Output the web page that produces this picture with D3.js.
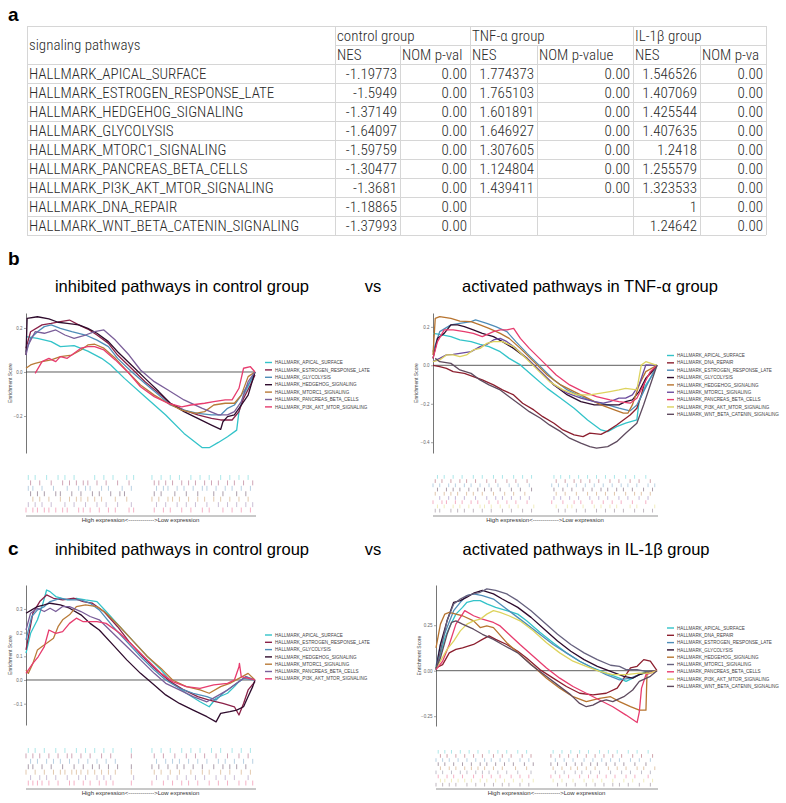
<!DOCTYPE html>
<html>
<head>
<meta charset="utf-8">
<script src="https://cdn.jsdelivr.net/npm/d3@7"></script>
<style>
  body { margin: 0; background: #fff; }
</style>
</head>
<body>
<div id="container"></div>
<script>
// ---- table (panel a) ----
const pathways = ["HALLMARK_APICAL_SURFACE", "HALLMARK_ESTROGEN_RESPONSE_LATE", "HALLMARK_HEDGEHOG_SIGNALING",
    "HALLMARK_GLYCOLYSIS", "HALLMARK_MTORC1_SIGNALING", "HALLMARK_PANCREAS_BETA_CELLS",
    "HALLMARK_PI3K_AKT_MTOR_SIGNALING", "HALLMARK_DNA_REPAIR", "HALLMARK_WNT_BETA_CATENIN_SIGNALING"];
const groups = ["control group", "TNF-α group", "IL-1β group"];
// header cells as they show in the (clipped) sheet
const subHeads = ["NES", "NOM p-val", "NES", "NOM p-value", "NES", "NOM p-va"];
const ctrlNES = [-1.19773, -1.5949, -1.37149, -1.64097, -1.59759, -1.30477, -1.3681, -1.18865, -1.37993];
const ctrlP = [0, 0, 0, 0, 0, 0, 0, 0, 0];
const tnfNES = [1.774373, 1.765103, 1.601891, 1.646927, 1.307605, 1.124804, 1.439411, null, null];
const tnfP = [0, 0, 0, 0, 0, 0, 0, null, null];
const ilNES = [1.546526, 1.407069, 1.425544, 1.407635, 1.2418, 1.255579, 1.323533, 1, 1.24642];
const ilP = [0, 0, 0, 0, 0, 0, 0, 0, 0];

// ---- gene sets ----
const leftSets = ["HALLMARK_APICAL_SURFACE", "HALLMARK_ESTROGEN_RESPONSE_LATE", "HALLMARK_GLYCOLYSIS",
    "HALLMARK_HEDGEHOG_SIGNALING", "HALLMARK_MTORC1_SIGNALING", "HALLMARK_PANCREAS_BETA_CELLS",
    "HALLMARK_PI3K_AKT_MTOR_SIGNALING"];
const rightSets = ["HALLMARK_APICAL_SURFACE", "HALLMARK_DNA_REPAIR", "HALLMARK_ESTROGEN_RESPONSE_LATE",
    "HALLMARK_GLYCOLYSIS", "HALLMARK_HEDGEHOG_SIGNALING", "HALLMARK_MTORC1_SIGNALING",
    "HALLMARK_PANCREAS_BETA_CELLS", "HALLMARK_PI3K_AKT_MTOR_SIGNALING", "HALLMARK_WNT_BETA_CATENIN_SIGNALING"];

// running enrichment score: [rank %, ES]
const bLeftES = [
    [[0,0.161],[5,0.153],[11,0.138],[15,0.115],[21,0.12],[27,0.095],[33,0.062],[37,0.032],[43,-0.029],[52,-0.112],[61,-0.195],[69,-0.279],[77,-0.344],[80,-0.344],[84,-0.32],[88,-0.294],[92,-0.264],[93,-0.18],[95,-0.105],[98,-0.044],[100,0]],
    [[0,0.108],[2,0.183],[7,0.214],[11,0.221],[15,0.229],[19,0.236],[23,0.214],[27,0.195],[31,0.168],[36,0.13],[40,0.077],[46,0.017],[52,-0.044],[58,-0.097],[63,-0.142],[69,-0.173],[75,-0.195],[81,-0.211],[85,-0.218],[90,-0.218],[93,-0.18],[95,-0.12],[98,-0.059],[100,-0.014]],
    [[0,0.092],[2,0.153],[5,0.183],[8,0.206],[11,0.214],[15,0.198],[20,0.183],[26,0.168],[31,0.145],[36,0.115],[40,0.062],[46,0.002],[52,-0.052],[58,-0.105],[63,-0.15],[69,-0.173],[75,-0.188],[81,-0.195],[85,-0.195],[88,-0.165],[91,-0.15],[94,-0.105],[97,-0.059],[100,0]],
    [[0,0.077],[0.5,0.244],[5,0.251],[10,0.241],[14,0.226],[18,0.221],[23,0.214],[27,0.198],[31,0.176],[36,0.138],[40,0.092],[46,0.032],[52,-0.029],[58,-0.089],[63,-0.142],[69,-0.18],[75,-0.211],[81,-0.241],[85,-0.261],[86,-0.226],[88,-0.203],[91,-0.195],[94,-0.15],[97,-0.105],[100,0]],
    [[0,0.017],[2,0.032],[4,0.039],[7,0.047],[11,0.055],[15,0.07],[20,0.077],[24,0.1],[27,0.123],[30,0.126],[34,0.108],[39,0.062],[45,-0.006],[50,-0.059],[56,-0.105],[62,-0.142],[68,-0.173],[74,-0.188],[78,-0.18],[82,-0.15],[87,-0.142],[91,-0.142],[94,-0.105],[97,-0.021],[100,0]],
    [[0,0.077],[1,0.123],[4,0.183],[8,0.176],[13,0.191],[17,0.168],[21,0.153],[26,0.168],[30,0.183],[34,0.191],[39,0.145],[45,0.077],[50,0.009],[56,-0.044],[62,-0.082],[69,-0.127],[77,-0.165],[84,-0.195],[88,-0.195],[91,-0.18],[94,-0.135],[97,-0.044],[100,0]],
    [[4,-0.006],[7,0.047],[10,0.062],[13,0.047],[15,0.07],[18,0.062],[21,0.085],[24,0.108],[27,0.115],[30,0.115],[34,0.1],[39,0.055],[45,-0.006],[50,-0.067],[56,-0.112],[62,-0.142],[68,-0.158],[72,-0.15],[78,-0.142],[82,-0.135],[87,-0.127],[90,-0.127],[93,-0.074],[95,0.017],[98,0.024],[100,0]]
];

const bRightES = [
    [[0,0.166],[3,0.161],[8,0.149],[12,0.132],[17,0.123],[21,0.109],[25,0.097],[30,0.071],[34,0.036],[39,0.002],[45,-0.059],[51,-0.12],[57,-0.171],[63,-0.223],[69,-0.284],[75,-0.336],[78,-0.345],[82,-0.319],[86,-0.301],[91,-0.284],[92,-0.189],[95,-0.102],[98,-0.05],[100,0]],
    [[0,0],[3,-0.007],[6,-0.016],[9,-0.033],[14,-0.042],[18,-0.059],[22,-0.076],[27,-0.102],[31,-0.128],[36,-0.154],[40,-0.197],[45,-0.232],[49,-0.267],[54,-0.301],[58,-0.336],[63,-0.362],[67,-0.371],[70,-0.353],[75,-0.359],[78,-0.341],[82,-0.31],[85,-0.284],[88,-0.258],[91,-0.223],[93,-0.154],[95,-0.068],[98,-0.033],[100,0]],
    [[0,0.071],[3,0.175],[8,0.21],[12,0.218],[17,0.227],[19,0.236],[24,0.218],[28,0.201],[33,0.175],[37,0.123],[42,0.062],[48,-0.007],[54,-0.076],[60,-0.128],[66,-0.163],[72,-0.189],[78,-0.206],[83,-0.223],[88,-0.237],[91,-0.206],[94,-0.137],[97,-0.068],[100,0]],
    [[0,0.036],[2,0.14],[5,0.166],[8,0.21],[11,0.21],[14,0.201],[18,0.184],[22,0.166],[27,0.149],[31,0.123],[36,0.088],[42,0.036],[48,-0.033],[54,-0.102],[60,-0.154],[66,-0.189],[72,-0.206],[78,-0.206],[83,-0.206],[86,-0.189],[89,-0.18],[92,-0.137],[95,-0.068],[100,0]],
    [[0,0.054],[1,0.244],[3,0.253],[8,0.244],[12,0.23],[17,0.227],[21,0.21],[25,0.192],[30,0.166],[34,0.14],[39,0.088],[45,0.019],[51,-0.05],[57,-0.102],[63,-0.137],[69,-0.171],[75,-0.206],[81,-0.232],[85,-0.249],[87,-0.249],[89,-0.206],[92,-0.102],[95,-0.033],[100,0]],
    [[0,0.019],[3,0.036],[6,0.054],[9,0.057],[12,0.062],[17,0.071],[21,0.097],[24,0.109],[27,0.132],[30,0.14],[33,0.123],[37,0.088],[42,0.036],[48,-0.033],[54,-0.102],[60,-0.145],[66,-0.171],[72,-0.189],[76,-0.197],[79,-0.189],[83,-0.171],[86,-0.171],[89,-0.154],[92,-0.102],[95,0.002],[100,0]],
    [[0,0.036],[2,0.123],[5,0.184],[9,0.184],[14,0.175],[18,0.166],[22,0.149],[27,0.175],[30,0.184],[33,0.184],[36,0.192],[39,0.14],[43,0.088],[49,0.019],[55,-0.05],[61,-0.102],[67,-0.137],[73,-0.163],[79,-0.18],[83,-0.189],[88,-0.197],[91,-0.171],[94,-0.102],[97,-0.033],[100,0]],
    [[0,0.019],[3,0.028],[6,0.054],[9,0.054],[12,0.045],[15,0.054],[18,0.08],[21,0.088],[24,0.114],[27,0.123],[31,0.123],[36,0.097],[40,0.054],[46,-0.016],[52,-0.085],[58,-0.128],[64,-0.154],[70,-0.154],[75,-0.145],[79,-0.137],[83,-0.128],[86,-0.12],[91,-0.128],[93,0.002],[95,0.019],[100,0]],
    [[1,0.036],[3,0.019],[8,0.01],[12,-0.024],[17,-0.042],[21,-0.076],[25,-0.102],[30,-0.128],[34,-0.163],[39,-0.206],[43,-0.241],[48,-0.275],[52,-0.31],[57,-0.345],[61,-0.379],[66,-0.405],[70,-0.423],[73,-0.431],[78,-0.423],[82,-0.397],[86,-0.353],[91,-0.301],[94,-0.206],[97,-0.102],[100,0]]
];

const cLeftES = [
    [[0,0.113],[2,0.197],[5,0.254],[7,0.31],[9,0.38],[10.5,0.373],[13,0.352],[18,0.338],[22,0.345],[26,0.338],[31,0.331],[35,0.289],[41,0.225],[47,0.162],[53,0.099],[59,0.042],[64,-0.014],[70,-0.056],[76,-0.092],[80,-0.113],[83,-0.077],[88,-0.056],[91,-0.028],[93,-0.007],[96,0.014],[100,0]],
    [[0,0.127],[3,0.282],[6,0.331],[9,0.359],[12,0.345],[16,0.338],[21,0.345],[25,0.331],[29,0.324],[34,0.289],[40,0.225],[45,0.162],[51,0.099],[57,0.042],[63,-0.007],[69,-0.042],[75,-0.07],[80,-0.085],[86,-0.099],[91,-0.113],[93,-0.148],[95,-0.099],[97,-0.042],[100,-0.007]],
    [[0,0.169],[2.5,0.268],[5,0.296],[8,0.31],[10.5,0.331],[15,0.345],[19,0.338],[24,0.338],[28,0.324],[32,0.296],[38,0.225],[44,0.162],[50,0.099],[56,0.042],[61,0],[67,-0.035],[73,-0.056],[79,-0.07],[83,-0.085],[86,-0.056],[89,-0.035],[92,-0.014],[95,0.007],[100,0]],
    [[0,0.282],[2.5,0.296],[5,0.31],[8,0.317],[10.5,0.324],[15,0.317],[19,0.303],[24,0.275],[28,0.239],[32,0.211],[38,0.148],[44,0.085],[50,0.028],[56,-0.021],[61,-0.063],[67,-0.099],[73,-0.127],[79,-0.155],[83,-0.177],[85,-0.141],[89,-0.134],[92,-0.127],[95,-0.113],[97,-0.07],[99,-0.028],[100,0]],
    [[0,0.042],[1,0.028],[3,0.07],[5,0.127],[7,0.141],[9,0.155],[12,0.176],[14,0.225],[16,0.254],[19,0.275],[22,0.31],[26,0.317],[31,0.31],[35,0.282],[41,0.225],[47,0.162],[53,0.099],[59,0.049],[64,0],[70,-0.028],[76,-0.042],[80,-0.056],[85,-0.028],[89,-0.014],[93,0.007],[97,0.028],[100,0]],
    [[0,0.211],[2,0.282],[5,0.303],[8,0.289],[10.5,0.303],[13,0.289],[16,0.31],[19,0.31],[24,0.289],[28,0.268],[32,0.254],[38,0.197],[44,0.141],[50,0.085],[56,0.028],[61,-0.014],[67,-0.042],[73,-0.07],[79,-0.092],[83,-0.07],[88,-0.042],[92,-0.014],[96,0.014],[100,0]],
    [[0,0.028],[3,0.07],[5.4,0.099],[8,0.141],[10,0.211],[13,0.197],[16,0.204],[19,0.239],[22,0.261],[25,0.246],[28,0.246],[31,0.246],[35,0.239],[41,0.197],[47,0.141],[53,0.085],[59,0.028],[64,-0.007],[70,-0.028],[76,-0.035],[82,-0.021],[88,-0.014],[91,0],[93,0.056],[93.2,0.07],[94,0.014],[100,0]]
];

const cRightES = [
    [[0,0.015],[2,0.089],[4,0.181],[6,0.237],[9,0.311],[12,0.348],[14,0.376],[17,0.385],[20,0.385],[23,0.367],[27,0.348],[32,0.33],[37,0.311],[41,0.274],[47,0.211],[53,0.154],[59,0.098],[65,0.052],[71,0.015],[77,-0.013],[83,-0.041],[86,-0.059],[89,-0.041],[92,-0.022],[95,-0.004],[100,0]],
    [[0,0.015],[3,0.033],[6,0.098],[9,0.117],[12,0.126],[17,0.144],[21,0.172],[24,0.191],[27,0.172],[32,0.144],[37,0.107],[41,0.07],[47,0.006],[53,-0.041],[59,-0.087],[65,-0.124],[71,-0.133],[77,-0.124],[82,-0.096],[85,-0.041],[88,0.015],[91,0.024],[94,0.061],[97,0.052],[100,0]],
    [[0,0.024],[2,0.144],[5,0.237],[8,0.33],[11,0.376],[14,0.413],[17,0.422],[21,0.413],[26,0.394],[30,0.357],[35,0.311],[41,0.256],[47,0.2],[53,0.144],[59,0.098],[65,0.052],[71,0.015],[77,-0.022],[83,-0.05],[88,-0.041],[92,-0.022],[97,-0.004],[100,0]],
    [[0,0.006],[2,0.144],[5,0.274],[8,0.376],[11,0.385],[14,0.404],[17,0.426],[21,0.441],[26,0.422],[30,0.394],[37,0.348],[43,0.293],[49,0.228],[55,0.163],[61,0.107],[67,0.061],[73,0.024],[79,-0.004],[85,-0.031],[89,-0.041],[92,-0.022],[97,-0.004],[100,0]],
    [[0,0.126],[2,0.256],[4,0.311],[6,0.32],[9,0.311],[12,0.302],[17,0.274],[20,0.237],[23,0.246],[26,0.237],[32,0.154],[38,0.089],[44,0.024],[50,-0.041],[56,-0.096],[62,-0.143],[68,-0.17],[74,-0.152],[79,-0.143],[83,-0.17],[88,-0.198],[92,-0.217],[95,-0.217],[95.5,-0.004],[100,0]],
    [[0,0.006],[2,0.107],[5,0.274],[8,0.367],[11,0.394],[14,0.413],[17,0.422],[20,0.431],[23,0.45],[27,0.441],[32,0.422],[37,0.385],[43,0.33],[49,0.265],[55,0.2],[61,0.144],[67,0.098],[73,0.061],[79,0.03],[83,0.024],[86,0.006],[91,0.006],[95,-0.004],[100,0]],
    [[0,0.006],[3,0.052],[6,0.144],[9,0.256],[12,0.311],[13,0.33],[17,0.302],[21,0.283],[26,0.265],[29,0.246],[33,0.2],[38,0.144],[44,0.08],[50,0.015],[56,-0.041],[62,-0.087],[68,-0.124],[74,-0.161],[80,-0.198],[86,-0.244],[91,-0.285],[92,-0.226],[93,-0.096],[95,-0.022],[97,-0.013],[100,0]],
    [[0,0.015],[2,0.052],[5,0.117],[8,0.163],[11,0.219],[14,0.256],[17,0.274],[20,0.283],[23,0.311],[26,0.33],[29,0.32],[33,0.302],[38,0.274],[44,0.219],[50,0.154],[56,0.098],[62,0.052],[68,0.024],[74,-0.004],[80,-0.022],[86,-0.022],[92,-0.013],[97,-0.013],[100,0]],
    [[0,0.015],[2,0.07],[5,0.2],[7,0.265],[9,0.274],[12,0.256],[17,0.228],[21,0.2],[26,0.172],[30,0.144],[37,0.098],[43,0.033],[49,-0.022],[55,-0.078],[61,-0.133],[65,-0.18],[68,-0.198],[71,-0.189],[74,-0.17],[77,-0.161],[80,-0.17],[85,-0.143],[89,-0.106],[92,-0.059],[97,-0.031],[100,0]]
];

// hit positions (rank %) for the barcode rows
const bLeftHits = [
    [1,4,9,14,17,21,30,34,38,44,47,55,59,63,67,72,76,80,85,89,93,97],
    [2,6,11,16,19,22,25,27,31,35,40,45,56,58,61,64,68,71,74,78,81,84,88,91,95,99],
    [1,3,7,12,18,23,26,28,33,36,42,46,57,60,62,66,69,73,77,79,83,87,90,94,98],
    [2,5,8,13,15,20,24,29,32,37,41,43,56,59,65,70,75,82,86,92,96],
    [3,6,10,15,19,22,24,27,30,33,39,44,55,58,62,64,67,71,75,78,82,85,89,93,97],
    [1,4,7,11,17,21,26,31,35,40,46,57,61,66,70,74,79,84,88,92,96,99],
    [0,3,5,8,10,13,16,18,23,25,28,32,36,39,45,47,56,60,63,68,72,77,80,86,90,94,98]
];
const bRightHits = [
    [2,5,9,13,18,22,27,31,36,40,44,54,57,61,65,69,73,77,81,86,90,95],
    [1,4,8,12,15,19,24,28,33,37,42,55,59,63,66,70,74,79,83,88,92,97],
    [0,3,7,10,14,17,21,25,29,34,38,43,53,56,60,64,68,72,76,80,84,87,91,96,99],
    [2,6,9,12,16,20,23,26,30,35,39,44,54,58,62,67,71,75,78,82,85,89,94,98],
    [1,5,8,11,15,18,22,27,32,36,41,55,59,64,69,73,77,81,86,90,93,97],
    [3,7,10,14,19,24,28,31,35,39,43,54,57,61,65,70,74,78,83,87,92,96],
    [0,4,6,10,13,17,20,25,29,33,37,42,53,58,63,66,71,76,80,84,89,95],
    [2,5,9,12,16,21,23,26,30,34,38,45,55,60,62,67,72,75,79,82,88,91,99],
    [1,3,8,11,14,18,22,26,31,35,40,44,56,59,64,68,73,77,81,85,90,94,98]
];
const cLeftHits = [
    [1,4,8,13,17,22,26,30,34,38,46,55,59,63,68,72,76,81,85,90,94,98],
    [0,3,6,10,14,18,20,24,28,33,37,46,56,60,65,70,74,78,83,88,93,97],
    [2,5,9,12,15,19,23,27,31,35,39,57,61,64,67,71,75,79,84,87,91,95,99],
    [1,3,7,11,16,21,25,29,32,36,40,46,55,58,62,66,69,73,77,82,86,89,92,96],
    [0,4,8,12,15,17,20,22,24,27,30,33,36,39,46,56,59,63,67,72,77,80,85,89,94,98],
    [2,6,9,13,18,23,26,31,34,37,47,57,62,66,70,74,78,83,87,91,97],
    [1,3,5,7,10,14,19,21,25,28,32,35,38,46,55,60,64,68,71,75,80,84,88,93,96,99]
];
const cRightHits = [
    [1,4,7,11,15,19,24,28,32,37,41,53,57,61,65,69,74,78,82,87,91,96],
    [2,5,9,13,17,21,26,30,34,39,43,52,56,60,64,68,72,76,80,84,89,93,98],
    [0,3,6,10,14,18,22,25,29,33,38,42,54,58,62,67,71,75,79,83,88,92,97],
    [1,4,8,12,16,20,23,27,31,35,40,44,52,55,59,63,66,70,73,77,81,85,90,95],
    [2,6,9,13,16,19,22,26,30,36,41,53,57,61,64,68,72,78,82,86,91,94,99],
    [0,3,7,11,14,18,21,24,28,32,37,43,54,58,63,66,70,74,79,84,88,93,97],
    [1,5,8,12,17,21,25,29,34,38,42,52,56,60,65,69,73,77,81,86,90,96],
    [2,4,7,10,13,16,20,23,27,31,35,39,44,53,57,62,67,71,75,80,85,89,94,98],
    [0,3,6,9,14,18,22,26,30,33,38,42,55,59,63,68,72,76,80,83,87,92,97]
];

const leftColors = ["#33c3c9", "#8a2148", "#4f8db8", "#2f0c2d", "#b97b38", "#7a5e99", "#e73c6e"];
const rightColorsB = ["#33c3c9", "#8c1f2f", "#4f8db8", "#2f0c2d", "#b7742f", "#6c4c9e", "#e73c6e", "#ddd35e", "#5f4b5f"];
const rightColorsC = ["#33c3c9", "#8c1f2f", "#4f8db8", "#2f0c2d", "#b7742f", "#66617e", "#e73c6e", "#ddd35e", "#5f4b5f"];

const svg = d3.select("#container").append("svg")
    .attr("width", 786)
    .attr("height", 803)
    .style("font-family", "'Liberation Sans', Arial, sans-serif");

// panel letters
svg.append("text").attr("x", 8).attr("y", 21).text("a")
    .attr("font-size", 19).attr("font-weight", "bold");
svg.append("text").attr("x", 8).attr("y", 265).text("b")
    .attr("font-size", 19).attr("font-weight", "bold");
svg.append("text").attr("x", 8).attr("y", 555).text("c")
    .attr("font-size", 19).attr("font-weight", "bold");

/* ---------- table ---------- */
const colX = [27, 335, 400, 470, 537, 633, 700, 766];
const tTop = 26, tRow = 19;
const tbl = svg.append("g")
    .style("font-family", "'Roboto Condensed', 'Liberation Sans Narrow', 'DejaVu Sans Condensed', sans-serif")
    .attr("font-size", 15)
    .attr("font-weight", 300)
    .attr("fill", "#2a2a2a");

const gridColor = "#d6d6d6";
const nRows = pathways.length + 2;
const tBottom = tTop + nRows * tRow;
// horizontal rules
d3.range(nRows + 1).forEach(i => {
    const yy = tTop + i * tRow + 0.5;
    tbl.append("line")
        .attr("x1", i === 1 ? colX[1] : colX[0]).attr("x2", colX[7])
        .attr("y1", yy).attr("y2", yy)
        .attr("stroke", gridColor);
});
// vertical rules
colX.forEach((cx, i) => {
    const sub = (i === 2 || i === 4 || i === 6);
    tbl.append("line")
        .attr("x1", cx + 0.5).attr("x2", cx + 0.5)
        .attr("y1", sub ? tTop + tRow : tTop).attr("y2", tBottom)
        .attr("stroke", gridColor);
});

const midY = r => tTop + r * tRow + tRow / 2 + 5;

tbl.append("text").attr("x", colX[0] + 2).attr("y", tTop + tRow + 5).text("signaling pathways");
groups.forEach((gname, i) => {
    tbl.append("text").attr("x", colX[1 + i * 2] + 2).attr("y", midY(0)).text(gname);
});
subHeads.forEach((s, j) => {
    tbl.append("text").attr("x", colX[1 + j] + 2).attr("y", midY(1)).text(s);
});

const tableCols = [ctrlNES, ctrlP, tnfNES, tnfP, ilNES, ilP];
pathways.forEach((p, r) => {
    tbl.append("text").attr("x", colX[0] + 2).attr("y", midY(r + 2)).text(p);
    tableCols.forEach((col, c) => {
        const v = col[r];
        if (v === null) return;
        const txt = (c % 2 === 1) ? v.toFixed(2) : String(v);
        tbl.append("text").attr("x", colX[c + 2] - 3).attr("y", midY(r + 2))
            .attr("text-anchor", "end").text(txt);
    });
});

/* ---------- titles ---------- */
function titles(yy, rightTitle, rightX) {
    svg.append("text").attr("x", 182).attr("y", yy).attr("text-anchor", "middle")
        .attr("font-size", 16.5).text("inhibited pathways in control group");
    svg.append("text").attr("x", 373).attr("y", yy).attr("text-anchor", "middle")
        .attr("font-size", 16.5).text("vs");
    svg.append("text").attr("x", rightX).attr("y", yy).attr("text-anchor", "middle")
        .attr("font-size", 16.5).text(rightTitle);
}
titles(292, "activated pathways in TNF-α group", 590);
titles(555, "activated pathways in IL-1β group", 586);

/* ---------- GSEA plots ---------- */
function gseaPlot(p) {
    const g = svg.append("g");
    const x = d3.scaleLinear().domain([0, 100]).range([p.x0, p.x1]);
    const y = d3.scaleLinear().domain(p.yDomain).range([p.yBottom, p.yTop]);

    const yAxis = d3.axisLeft(y)
        .tickValues(p.ticks)
        .tickFormat(d3.format(p.fmt))
        .tickSize(2)
        .tickSizeOuter(0)
        .tickPadding(1.5);
    g.append("g")
        .attr("transform", `translate(${p.x0},0)`)
        .call(yAxis)
        .call(a => a.select(".domain").attr("stroke", "#666").attr("stroke-width", 0.9))
        .call(a => a.selectAll(".tick line").attr("stroke", "#666").attr("stroke-width", 0.6))
        .call(a => a.selectAll(".tick text").attr("font-size", 4.5).attr("fill", "#666")
            .style("font-family", "'Liberation Sans', Arial, sans-serif"));

    g.append("text")
        .attr("transform", `translate(${p.labX},${(p.yTop + p.yBottom) / 2}) rotate(-90)`)
        .attr("text-anchor", "middle")
        .attr("font-size", 5)
        .attr("fill", "#444")
        .text("Enrichment Score");

    g.append("line")
        .attr("x1", p.x0).attr("x2", p.x1)
        .attr("y1", y(0)).attr("y2", y(0))
        .attr("stroke", "#333").attr("stroke-width", 0.8);

    const line = d3.line()
        .x(d => x(d[0]))
        .y(d => y(d[1]));

    g.append("g").selectAll("path")
        .data(p.es)
        .enter().append("path")
        .attr("d", d => line(d))
        .attr("fill", "none")
        .attr("stroke", (d, i) => p.colors[i])
        .attr("stroke-width", 1.3)
        .attr("stroke-linejoin", "round");

    // legend
    const leg = g.append("g");
    p.sets.forEach((s, i) => {
        const ly = p.legY + i * p.legDy;
        leg.append("line")
            .attr("x1", p.legX).attr("x2", p.legX + 7)
            .attr("y1", ly).attr("y2", ly)
            .attr("stroke", p.colors[i]).attr("stroke-width", 1.4);
        leg.append("text")
            .attr("x", p.legX + 10).attr("y", ly + 1.6)
            .attr("font-size", 4.6).attr("fill", "#444")
            .text(s);
    });

    // barcode rows
    const rowH = (p.bcBottom - p.bcTop) / p.hits.length;
    p.hits.forEach((row, i) => {
        g.append("g").selectAll("line")
            .data(row)
            .enter().append("line")
            .attr("x1", d => x(d)).attr("x2", d => x(d))
            .attr("y1", p.bcTop + i * rowH)
            .attr("y2", p.bcTop + (i + 1) * rowH - 0.5)
            .attr("stroke", p.colors[i])
            .attr("stroke-opacity", 0.5)
            .attr("stroke-width", 0.8);
    });
    g.append("line")
        .attr("x1", p.x0).attr("x2", p.x1 + 1)
        .attr("y1", p.bcLine).attr("y2", p.bcLine)
        .attr("stroke", "#777").attr("stroke-width", 0.8);
    g.append("text")
        .attr("x", (p.x0 + p.x1) / 2).attr("y", p.bcText)
        .attr("text-anchor", "middle")
        .attr("font-size", 6).attr("fill", "#333")
        .text("High expression<------------->Low expression");
}

gseaPlot({
    sets: leftSets, es: bLeftES, hits: bLeftHits, colors: leftColors,
    x0: 26, x1: 255, yTop: 313, yBottom: 453, yDomain: [-0.368, 0.268],
    ticks: [0.2, 0, -0.2], fmt: ".1f", labX: 12,
    legX: 265, legY: 362.5, legDy: 7.4,
    bcTop: 475, bcBottom: 513, bcLine: 516, bcText: 522
});
gseaPlot({
    sets: rightSets, es: bRightES, hits: bRightHits, colors: rightColorsB,
    x0: 433, x1: 657, yTop: 313, yBottom: 453, yDomain: [-0.456, 0.272],
    ticks: [0.2, 0, -0.2, -0.4], fmt: ".1f", labX: 418,
    legX: 667, legY: 355.5, legDy: 7.35,
    bcTop: 475, bcBottom: 513, bcLine: 516, bcText: 522
});
gseaPlot({
    sets: leftSets, es: cLeftES, hits: cLeftHits, colors: leftColors,
    x0: 26, x1: 255, yTop: 585, yBottom: 725, yDomain: [-0.19, 0.401],
    ticks: [0.3, 0.2, 0.1, 0, -0.1], fmt: ".1f", labX: 12,
    legX: 265, legY: 635, legDy: 7.3,
    bcTop: 748, bcBottom: 786, bcLine: 789, bcText: 795
});
gseaPlot({
    sets: rightSets, es: cRightES, hits: cRightHits, colors: rightColorsC,
    x0: 436, x1: 657, yTop: 585, yBottom: 726, yDomain: [-0.304, 0.471],
    ticks: [0.25, 0, -0.25], fmt: ".2f", labX: 421,
    legX: 667, legY: 628, legDy: 7.3,
    bcTop: 750, bcBottom: 787, bcLine: 789, bcText: 795
});
</script>
</body>
</html>
